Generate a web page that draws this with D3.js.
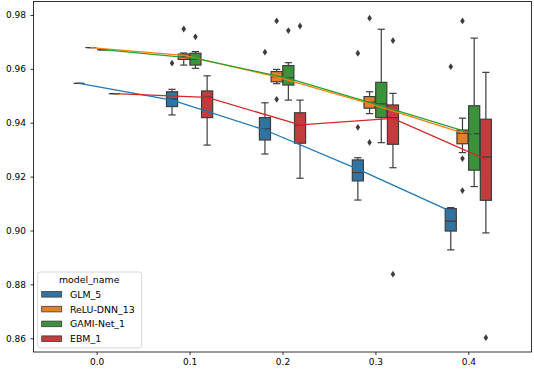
<!DOCTYPE html>
<html>
<head>
<meta charset="utf-8">
<script src="https://cdn.jsdelivr.net/npm/d3@7"></script>
<style>
  body { margin: 0; background: #fff; }
  text { font-family: "DejaVu Sans", sans-serif; }
</style>
</head>
<body>
<svg id="chart" width="534" height="372"></svg>
<script>
const noiseLevels = [0.0, 0.1, 0.2, 0.3, 0.4];
const modelNames = ["GLM_5", "ReLU-DNN_13", "GAMI-Net_1", "EBM_1"];
const yTicks = [0.86, 0.88, 0.9, 0.92, 0.94, 0.96, 0.98];

// [whisker low, q1, median, q3, whisker high] per noise level
const glmBoxes = [
  [0.9546, 0.9546, 0.9546, 0.9546, 0.9546],
  [0.9429, 0.946, 0.9488, 0.9515, 0.9524],
  [0.9284, 0.9336, 0.9377, 0.9419, 0.9474],
  [0.9113, 0.9184, 0.9215, 0.9262, 0.927],
  [0.8928, 0.8998, 0.9035, 0.9081, 0.9085],
];
const reluBoxes = [
  [0.9679, 0.9679, 0.9679, 0.9679, 0.9679],
  [0.9614, 0.9635, 0.9646, 0.9655, 0.9659],
  [0.9545, 0.9552, 0.9571, 0.959, 0.9598],
  [0.9434, 0.9454, 0.9476, 0.9497, 0.9515],
  [0.9289, 0.9322, 0.9361, 0.9373, 0.9417],
];
const gamiBoxes = [
  [0.9671, 0.9671, 0.9671, 0.9671, 0.9671],
  [0.9602, 0.9614, 0.9636, 0.9658, 0.9664],
  [0.9484, 0.954, 0.9567, 0.9612, 0.9623],
  [0.9326, 0.9419, 0.947, 0.955, 0.9747],
  [0.9163, 0.9224, 0.9359, 0.9463, 0.9714],
];
const ebmBoxes = [
  [0.9508, 0.9508, 0.9508, 0.9508, 0.9508],
  [0.9317, 0.9419, 0.9495, 0.9518, 0.9574],
  [0.9194, 0.9324, 0.9392, 0.9437, 0.9484],
  [0.9233, 0.932, 0.9419, 0.9466, 0.9509],
  [0.8991, 0.9112, 0.9273, 0.9413, 0.9587],
];

const glmOutliers = [[], [0.9621], [0.9662], [0.9658, 0.9383], [0.9608]];
const reluOutliers = [[], [0.9748], [0.9778, 0.9487], [0.9788, 0.9327], [0.9778, 0.9267, 0.9148]];
const gamiOutliers = [[], [0.9719], [0.9742], [], []];
const ebmOutliers = [[], [], [0.9759], [0.9705, 0.8838], [0.8602]];

const glmMeans = [0.9546, 0.9484, 0.9373, 0.9228, 0.9071];
const reluMeans = [0.9679, 0.965, 0.957, 0.9471, 0.9362];
const gamiMeans = [0.9671, 0.9639, 0.9565, 0.9463, 0.9358];
const ebmMeans = [0.9508, 0.9494, 0.9392, 0.9416, 0.9264];

const boxColors = ["#3274a1", "#e1812c", "#3a923a", "#c03d3e"];
const lineColors = ["#1f77b4", "#ff7f0e", "#2ca02c", "#d62728"];
const edgeColor = "#3d3d3d";
const fontSize = 9;

const series = modelNames.map((name, i) => ({
  name,
  boxColor: boxColors[i],
  lineColor: lineColors[i],
  boxes: [glmBoxes, reluBoxes, gamiBoxes, ebmBoxes][i],
  outliers: [glmOutliers, reluOutliers, gamiOutliers, ebmOutliers][i],
  means: [glmMeans, reluMeans, gamiMeans, ebmMeans][i],
}));

const plot = { left: 33.5, right: 531.5, top: 1.5, bottom: 352 };

const svg = d3.select("#chart");

const xScale = d3.scaleLinear().domain([-0.068, 0.468]).range([plot.left, plot.right]);
const yScale = d3.scaleLinear().domain([0.8549, 0.985]).range([plot.bottom, plot.top]);
const hueScale = d3.scaleBand().domain(modelNames).range([-23.4, 23.4]);
const bw = hueScale.bandwidth();
const centerX = (level, name) => xScale(level) + hueScale(name) + bw / 2;

// axes
const xAxis = svg.append("g")
  .attr("transform", `translate(0, ${plot.bottom})`)
  .call(d3.axisBottom(xScale).tickValues(noiseLevels).tickFormat(d3.format(".1f"))
    .tickSize(3).tickPadding(3.5).tickSizeOuter(0));
const yAxis = svg.append("g")
  .attr("transform", `translate(${plot.left}, 0)`)
  .call(d3.axisLeft(yScale).tickValues(yTicks).tickFormat(d3.format(".2f"))
    .tickSize(3).tickPadding(4.5).tickSizeOuter(0));
[xAxis, yAxis].forEach((ax) => {
  ax.select(".domain").remove();
  ax.selectAll(".tick line").attr("stroke", "#000").attr("stroke-width", 0.8);
  ax.selectAll(".tick text").attr("fill", "#000").style("font-size", fontSize + "px")
    .style("font-family", "DejaVu Sans");
});

// boxes
const boxGroups = svg.selectAll(".model").data(series).enter().append("g");
boxGroups.each(function (s) {
  const g = d3.select(this);
  s.boxes.forEach((b, j) => {
    const cx = centerX(noiseLevels[j], s.name);
    const [lo, q1, med, q3, hi] = b.map(yScale);
    const capW = bw * 0.62;
    const seg = (x1, y1, x2, y2) => g.append("line")
      .attr("x1", x1).attr("y1", y1).attr("x2", x2).attr("y2", y2)
      .attr("stroke", edgeColor).attr("stroke-width", 1.2);
    seg(cx, q1, cx, lo);
    seg(cx, q3, cx, hi);
    seg(cx - capW / 2, lo, cx + capW / 2, lo);
    seg(cx - capW / 2, hi, cx + capW / 2, hi);
    g.append("rect")
      .attr("x", cx - bw / 2 + 0.3).attr("width", bw - 0.6)
      .attr("y", q3).attr("height", Math.max(0, q1 - q3))
      .attr("fill", s.boxColor).attr("stroke", edgeColor).attr("stroke-width", 1.2);
    seg(cx - bw / 2 + 0.3, med, cx + bw / 2 - 0.3, med);
    s.outliers[j].forEach((v) => {
      g.append("path")
        .attr("transform", `translate(${cx}, ${yScale(v)})`)
        .attr("d", "M0,-3.4L2.3,0L0,3.4L-2.3,0Z")
        .attr("fill", edgeColor);
    });
  });
});

// mean lines
const line = d3.line()
  .x((d) => centerX(d.level, d.name))
  .y((d) => yScale(d.value));
svg.selectAll(".mean-line").data(series).enter().append("path")
  .attr("fill", "none")
  .attr("stroke", (s) => s.lineColor)
  .attr("stroke-width", 1.3)
  .attr("d", (s) => line(s.means.map((v, j) => ({ level: noiseLevels[j], name: s.name, value: v }))));

// frame
svg.append("rect")
  .attr("x", plot.left).attr("y", plot.top)
  .attr("width", plot.right - plot.left).attr("height", plot.bottom - plot.top)
  .attr("fill", "none").attr("stroke", "#000").attr("stroke-width", 0.8);

// legend
const legend = svg.append("g").attr("transform", "translate(37.7, 272)");
legend.append("rect")
  .attr("width", 104).attr("height", 76).attr("rx", 2.5)
  .attr("fill", "#fff").attr("fill-opacity", 0.8)
  .attr("stroke", "#cccccc").attr("stroke-width", 0.8);
legend.append("text")
  .attr("x", 51.5).attr("y", 10.8)
  .attr("text-anchor", "middle")
  .style("font-size", "9.4px")
  .text("model_name");
series.forEach((s, i) => {
  const ry = 22.3 + i * 14.8;
  legend.append("rect")
    .attr("x", 4).attr("y", ry - 2.8).attr("width", 20).attr("height", 5.6)
    .attr("fill", s.boxColor).attr("stroke", edgeColor).attr("stroke-width", 0.8);
  legend.append("text")
    .attr("x", 32.3).attr("y", ry + 3.4)
    .style("font-size", "9.4px")
    .text(s.name);
});
</script>
</body>
</html>
